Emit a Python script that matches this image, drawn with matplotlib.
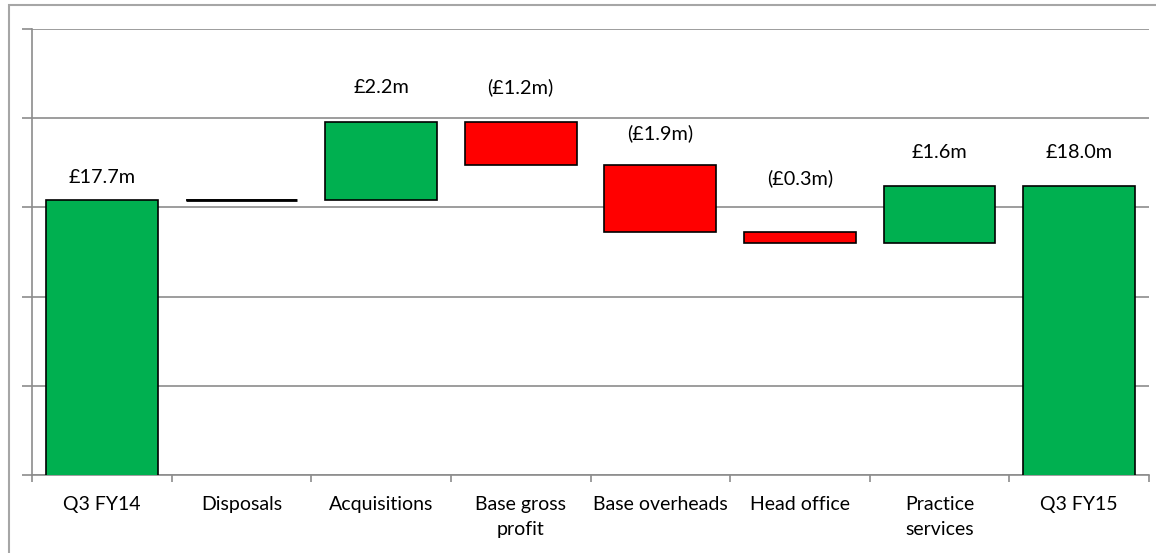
import matplotlib

matplotlib.use("Agg")
import matplotlib.pyplot as plt
import numpy as np
from matplotlib.patches import Rectangle

# data (in £m)
categories = ["Q3 FY14", "Disposals", "Acquisitions", "Base gross\nprofit",
              "Base overheads", "Head office", "Practice\nservices", "Q3 FY15"]
start_value = 17.7
deltas = [0.0, 2.2, -1.2, -1.9, -0.3, 1.6]
value_labels = ["£17.7m", "", "£2.2m", "(£1.2m)", "(£1.9m)", "(£0.3m)", "£1.6m", "£18.0m"]

GREEN = "#00B050"
RED = "#FF0000"
GRID = "#8c8c8c"

plt.rcParams["font.family"] = ["Lato", "DejaVu Sans"]

fig = plt.figure(figsize=(11.56, 5.53), dpi=100)
ax = fig.add_axes([32 / 1156, 1 - 475 / 553, 1117 / 1156, 446 / 553])

# running totals -> floating bars
levels = np.concatenate([[start_value], start_value + np.cumsum(deltas)])
end_value = levels[-1]
bottoms = [0.0]
heights = [start_value]
colors = [GREEN]
for i, d in enumerate(deltas):
    bottoms.append(min(levels[i], levels[i + 1]))
    heights.append(abs(d))
    colors.append(GREEN if d >= 0 else RED)
bottoms.append(0.0)
heights.append(end_value)
colors.append(GREEN)

x = np.arange(len(categories))
ax.bar(x, heights, bottom=bottoms, width=0.8, color=colors,
       edgecolor="black", linewidth=1.2, zorder=3)

# zero-height disposals bar shows as a line
for i, h in enumerate(heights):
    if h == 0:
        ax.hlines(bottoms[i], i - 0.4, i + 0.4, color="black", lw=2, zorder=4)

# value labels (pad in points to follow the source layout)
label_pad = [16.5, 0, 24.5, 25, 22.5, 39, 24, 24]
for i, lab in enumerate(value_labels):
    if not lab:
        continue
    top = bottoms[i] + heights[i]
    ax.annotate(lab, (i, top), xytext=(0, label_pad[i]), textcoords="offset points",
                ha="center", va="center", fontsize=14.3)

ax.set_xlim(-0.5, len(categories) - 0.5)
ax.set_ylim(10, 22.5)
ax.set_yticks(np.arange(10, 22.6, 2.5))
ax.set_yticklabels([])
ax.set_xticks(x)
ax.set_xticklabels(categories, fontsize=14, linespacing=1.6)
ax.set_xticks(np.arange(-0.5, len(categories)), minor=True)
ax.tick_params(axis="x", which="major", length=0, pad=15)
ax.tick_params(axis="x", which="minor", length=5, color=GRID, width=1.2)
ax.tick_params(axis="y", length=7, color=GRID, width=1.2)
ax.grid(axis="y", color=GRID, lw=1.2, zorder=0)
for s in ["top", "right"]:
    ax.spines[s].set_visible(False)
for s in ["left", "bottom"]:
    ax.spines[s].set_color(GRID)
    ax.spines[s].set_linewidth(1.2)

# outer chart border
fig.patches.append(Rectangle((8.5 / 1156, -0.05), 1.1, 1 - 5 / 553 + 0.05,
                             transform=fig.transFigure, fill=False,
                             edgecolor="#a6a6a6", lw=1.5))

fig.savefig("out.png", dpi=100)
